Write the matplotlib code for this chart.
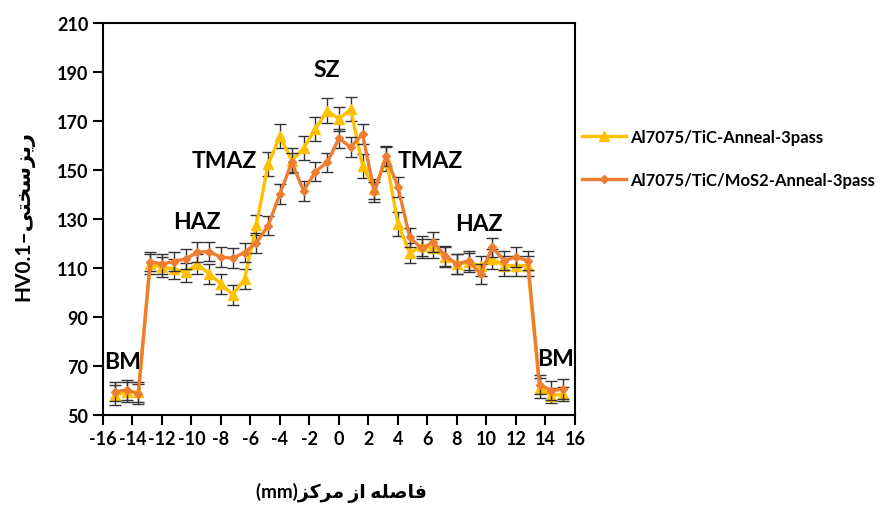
import numpy as np
import matplotlib.pyplot as plt
from matplotlib.lines import Line2D

# فاصله از مرکز (mm)
dist = [-15.2, -14.4, -13.6, -12.8, -12.0, -11.2, -10.4, -9.6, -8.8, -8.0,
        -7.2, -6.4, -5.6, -4.8, -4.0, -3.2, -2.4, -1.6, -0.8, 0.0,
        0.8, 1.6, 2.4, 3.2, 4.0, 4.8, 5.6, 6.4, 7.2, 8.0,
        8.8, 9.6, 10.4, 11.2, 12.0, 12.8, 13.6, 14.4, 15.2]

hv_tic = [58.2, 59.3, 59.3, 111.5, 110.3, 109.6, 108.2, 111.6, 107.6, 103.5,
          99.0, 105.5, 127.5, 152.4, 163.8, 153.8, 158.9, 166.7, 174.2, 170.8,
          174.9, 151.7, 142.2, 154.5, 128.0, 116.0, 119.0, 118.0, 114.4, 111.6,
          112.3, 110.9, 113.7, 110.9, 110.9, 110.9, 61.0, 57.9, 58.6]
err_tic = [4, 4, 4, 4, 4, 4, 4, 4, 4, 4,
           4, 4, 4, 5, 5, 5, 5, 5, 5, 5,
           5, 5, 4, 5, 5, 4, 4, 4, 4, 4,
           4, 4, 4, 4, 4, 4, 4, 3, 3]

hv_mos2 = [59.5, 60.2, 58.6, 112.6, 111.6, 112.6, 113.7, 116.4, 116.7, 114.4,
           114.0, 116.3, 120.2, 127.3, 140.2, 153.1, 141.5, 149.3, 153.1, 162.9,
           159.3, 164.7, 140.9, 155.6, 143.0, 122.5, 118.0, 120.5, 115.0, 111.6,
           113.0, 107.6, 118.4, 113.0, 114.4, 113.0, 62.4, 59.9, 60.6]
err_mos2 = [4, 4, 4, 4, 4, 4, 4, 4, 4, 4,
            4, 4, 4, 4, 4, 4, 4, 4, 4, 4,
            4, 4, 4, 4, 4, 4, 4, 4, 4, 4,
            4, 4, 4, 4, 4, 4, 4, 4, 4]

series_names = ["Al7075/TiC-Anneal-3pass", "Al7075/TiC/MoS2-Anneal-3pass"]

zones = ["BM", "HAZ", "TMAZ", "SZ", "TMAZ", "HAZ", "BM"]
zone_x = [-14.7, -9.6, -7.8, -0.8, 6.2, 9.5, 14.7]
zone_y = [72, 129, 154, 191, 154, 128, 73]

yellow = "#FFC000"
orange = "#ED7D31"

fam = ["Lato", "DejaVu Sans"]
plt.rcParams["font.family"] = fam
plt.rcParams["font.weight"] = "bold"
plt.rcParams["axes.unicode_minus"] = False

fig = plt.figure(figsize=(8.9, 5.06), dpi=100)
ax = fig.add_axes([0.1157, 0.178, 0.5303, 0.7746])

ax.errorbar(dist, hv_tic, yerr=err_tic, color=yellow, lw=2.4, marker="^",
            markersize=7, ecolor="#333333", elinewidth=1, capsize=4,
            capthick=1, zorder=2)
ax.errorbar(dist, hv_mos2, yerr=err_mos2, color=orange, lw=2.4, marker="D",
            markersize=4.5, ecolor="#333333", elinewidth=1, capsize=4,
            capthick=1, zorder=3)

for t, x, y in zip(zones, zone_x, zone_y):
    ax.text(x, y, t, ha="center", va="center", fontsize=16.5, fontweight="bold",
            family=fam, zorder=5)

ax.set_xlim(-16, 16)
ax.set_ylim(50, 210)
ax.set_xticks(np.arange(-16, 17, 2))
ax.set_yticks(np.arange(50, 211, 20))
ax.tick_params(direction="out", length=7, width=1.5, labelsize=13)
for lab in ax.get_xticklabels() + ax.get_yticklabels():
    lab.set_fontweight("bold")
for sp in ax.spines.values():
    sp.set_linewidth(1.5)
    sp.set_color("black")

# فاصله از مرکز(mm) — حروف شکل داده شده به ترتیب نمایشی
xlab = "(mm)" + "\uFEB0\uFB90\uFEAE\uFEE3" + " " + "\uFEAF\uFE8D" + " " + "\uFEEA\uFEE0\uFEBB\uFE8E\uFED3"
# HV0.1– ریزسختی
ylab = "HV0.1\u2013" + "\uFBFD\uFE98\uFEA8\uFEB3\uFEB0\uFBFE\uFEAD"
fig.text(0.384, 0.026, xlab, ha="center", va="center", fontsize=13.5,
         fontweight="bold", family=fam)
fig.text(0.027, 0.573, ylab, ha="center", va="center", rotation=90,
         fontsize=15, fontweight="bold", family=fam)

handles = [Line2D([], [], color=yellow, lw=2.4, marker="^", markersize=7),
           Line2D([], [], color=orange, lw=2.4, marker="D", markersize=4.5)]
fig.legend(handles, series_names, loc="upper left",
           bbox_to_anchor=(0.647, 0.756), frameon=False, handlelength=2.6,
           handletextpad=0.25, labelspacing=1.6, borderaxespad=0.0,
           prop={"size": 12, "weight": "bold"})

fig.savefig("out.png", dpi=100)
